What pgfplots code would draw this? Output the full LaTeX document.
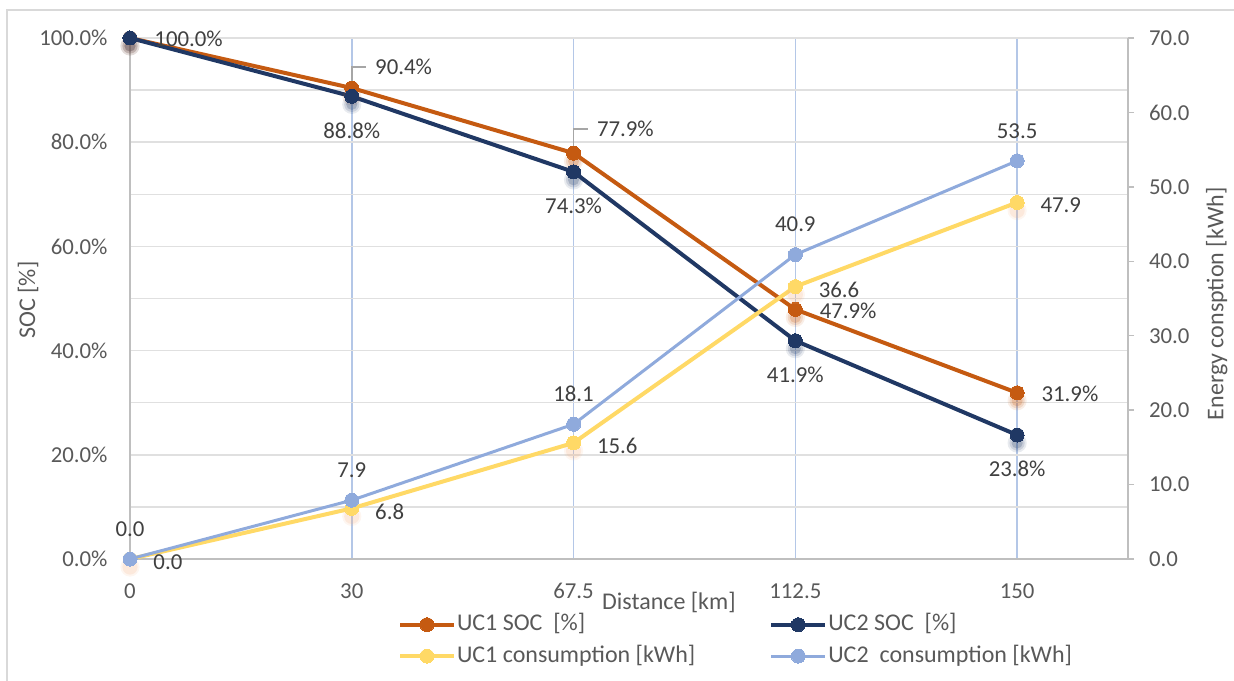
\documentclass[border=0pt]{standalone}
\usepackage{pgfplots}
\pgfplotsset{compat=1.18}
\usepackage{pgfplotstable}
\usepackage{fontspec}
\setmainfont{Carlito}

\definecolor{cSOCa}{HTML}{C55A11}
\definecolor{cSOCb}{HTML}{203864}
\definecolor{cCONa}{HTML}{FFD966}
\definecolor{cCONb}{HTML}{8FAADC}
\definecolor{shCONa}{HTML}{F4B183}
\definecolor{gridh}{HTML}{E0E0E0}
\definecolor{gridv}{HTML}{B4C7E7}
\definecolor{axisc}{HTML}{BFBFBF}
\definecolor{framec}{HTML}{D9D9D9}
\definecolor{tickc}{HTML}{595959}
\definecolor{labc}{HTML}{404040}
\definecolor{leadc}{HTML}{A6A6A6}

\newcommand{\chartfont}{\fontsize{11.4}{13.5}\selectfont}
\newcommand{\titlefont}{\fontsize{12}{14}\selectfont}

% distance index: 0 -> 0 km, 1 -> 30, 2 -> 67.5, 3 -> 112.5, 4 -> 150
\pgfplotstableread{
x soca socb cona conb
0 100.0 100.0 0.0 0.0
1 90.4 88.8 6.8 7.9
2 77.9 74.3 15.6 18.1
3 47.9 41.9 36.6 40.9
4 31.9 23.8 47.9 53.5
}\datatable

\pgfplotsset{
  base/.style={
    at={(0,0)}, anchor=south west,
    scale only axis, width=499pt, height=260.5pt,
    xmin=0, xmax=4.5, clip=false,
    font=\chartfont,
    axis line style={axisc, line width=0.75pt},
    tick label style={font=\chartfont, text=tickc},
    label style={font=\titlefont, text=tickc},
  },
  series/.style={#1, line width=2pt, mark=*, mark size=3.5pt,
    mark options={solid, fill=#1, draw=#1, line width=0pt}},
  markshadow/.style n args={3}{forget plot, only marks, mark=*, color=#1,
    mark size=#2,
    mark options={draw opacity=0, fill=#1, fill opacity=#3, yshift=-4pt}},
  valuelabel/.style={forget plot, draw=none, mark=none,
    nodes near coords, point meta=y,
    every node near coord/.append style={font=\chartfont, text=labc, #1}},
  legend image code/.code={
    \draw[#1, mark repeat=2, mark phase=2]
      plot coordinates {(0pt,0pt) (13.5pt,0pt) (27pt,0pt)};
  },
}

\begin{document}
\begin{tikzpicture}
\path[use as bounding box] (-65pt,-60.5pt) rectangle (552pt,279.5pt);
\draw[framec, line width=0.75pt] (-61.5pt,-70pt) -- (-61.5pt,274.5pt) -- (560pt,274.5pt);

% state of charge, left axis
\begin{axis}[
  base,
  ymin=0, ymax=100,
  axis x line*=bottom, axis y line*=left,
  xtick={0,1,2,3,4}, xticklabels={0,30,67.5,112.5,150},
  ytick={0,20,40,60,80,100}, minor ytick={10,30,50,70,90},
  major tick length=0pt, minor tick length=0pt,
  xmajorgrids, ymajorgrids, yminorgrids,
  x grid style={gridv, line width=0.75pt},
  y grid style={gridh, line width=0.75pt},
  minor y grid style={gridh, line width=0.75pt},
  yticklabel={\pgfmathprintnumber[fixed,fixed zerofill,precision=1,assume math mode=true]{\tick}\%},
  yticklabel style={xshift=-7.7pt},
  xticklabel style={yshift=-8.6pt},
  xlabel={Distance [km]}, ylabel={SOC [\%]},
  xlabel style={at={(axis description cs:0.540,0)}, anchor=center, yshift=-21.5pt},
  ylabel style={at={(axis description cs:-0.102,0.497)}, anchor=center},
]
% soft drop shadows under the markers
\addplot[markshadow={cSOCa}{4.8pt}{0.10}] table[x=x, y=soca] {\datatable};
\addplot[markshadow={cSOCa}{3.8pt}{0.15}] table[x=x, y=soca] {\datatable};
\addplot[markshadow={cSOCa}{2.8pt}{0.22}] table[x=x, y=soca] {\datatable};
\addplot[markshadow={cSOCb}{4.8pt}{0.10}] table[x=x, y=socb] {\datatable};
\addplot[markshadow={cSOCb}{3.8pt}{0.15}] table[x=x, y=socb] {\datatable};
\addplot[markshadow={cSOCb}{2.8pt}{0.22}] table[x=x, y=socb] {\datatable};

\addplot[series=cSOCa, forget plot] table[x=x, y=soca] {\datatable};
\addplot[series=cSOCb, forget plot] table[x=x, y=socb] {\datatable};

% value labels
\addplot[valuelabel={anchor=west, xshift=8.7pt, yshift=-0.5pt},
  nodes near coords={\pgfmathprintnumber[fixed,fixed zerofill,precision=1,assume math mode=true]{\pgfplotspointmeta}\%},
  skip coords between index={1}{3}] table[x=x, y=soca] {\datatable};
\addplot[valuelabel={anchor=center, yshift=-17pt},
  nodes near coords={\pgfmathprintnumber[fixed,fixed zerofill,precision=1,assume math mode=true]{\pgfplotspointmeta}\%},
  skip coords between index={0}{1}] table[x=x, y=socb] {\datatable};

% callout labels with leader lines
\draw[leadc, line width=0.75pt] (axis cs:1,90.4) ++(0,3pt) |- ++(7pt,7.5pt);
\node[anchor=west, xshift=8.2pt, yshift=10.5pt, font=\chartfont, text=labc] at (axis cs:1,90.4) {90.4\%};
\draw[leadc, line width=0.75pt] (axis cs:2,77.9) ++(0,3pt) |- ++(7pt,9pt);
\node[anchor=west, xshift=8.2pt, yshift=12pt, font=\chartfont, text=labc] at (axis cs:2,77.9) {77.9\%};
\end{axis}

% energy consumption, right axis
\begin{axis}[
  base,
  ymin=0, ymax=70,
  axis x line=none, axis y line*=right,
  xtick=\empty,
  ytick={0,10,...,70},
  yticklabel={\pgfmathprintnumber[fixed,fixed zerofill,precision=1,assume math mode=true]{\tick}},
  yticklabel style={xshift=4pt},
  tick align=outside, major tick length=3pt,
  ytick style={axisc, line width=0.75pt},
  ylabel={Energy consption [kWh]},
  ylabel style={at={(axis description cs:1.089,0.49)}, anchor=center},
  legend columns=2,
  legend cell align=left,
  legend style={
    draw=none, fill=none,
    at={(axis description cs:0,0)}, anchor=north west,
    xshift=134pt, yshift=-27pt,
    inner sep=0pt, outer sep=0pt,
    row sep=4pt,
    font=\titlefont, text=tickc,
    nodes={inner sep=0pt, text height=8.8pt, text depth=2.9pt},
    /tikz/column 1/.style={column sep=0.5pt},
    /tikz/column 2/.style={column sep=37pt},
    /tikz/column 3/.style={column sep=0.5pt},
  },
]
\addlegendimage{series=cSOCa}
\addlegendentry{UC1 SOC\ \ [\%]}
\addlegendimage{series=cSOCb}
\addlegendentry{UC2 SOC\ \ [\%]}

\addplot[markshadow={shCONa}{4.8pt}{0.12}] table[x=x, y=cona] {\datatable};
\addplot[markshadow={shCONa}{3.8pt}{0.18}] table[x=x, y=cona] {\datatable};
\addplot[series=cCONa] table[x=x, y=cona] {\datatable};
\addlegendentry{UC1 consumption [kWh]}
\addplot[series=cCONb, line width=1.5pt] table[x=x, y=conb] {\datatable};
\addlegendentry{UC2\ \ consumption [kWh]}

\addplot[valuelabel={anchor=west, xshift=8.2pt, yshift=-1.5pt},
  nodes near coords={\pgfmathprintnumber[fixed,fixed zerofill,precision=1,assume math mode=true]{\pgfplotspointmeta}}]
  table[x=x, y=cona] {\datatable};
\addplot[valuelabel={anchor=center, yshift=15pt},
  nodes near coords={\pgfmathprintnumber[fixed,fixed zerofill,precision=1,assume math mode=true]{\pgfplotspointmeta}}]
  table[x=x, y=conb] {\datatable};
\end{axis}
\end{tikzpicture}
\end{document}
